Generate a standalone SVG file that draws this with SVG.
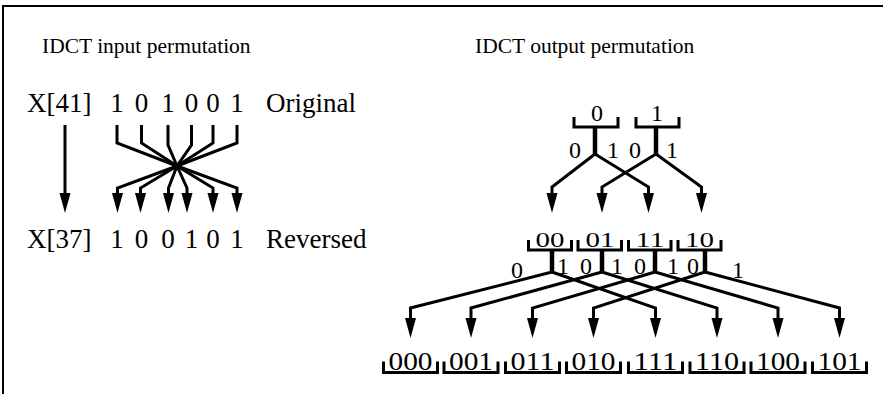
<svg xmlns="http://www.w3.org/2000/svg" width="885" height="394" viewBox="0 0 885 394">
<style>
text{font-family:"Liberation Serif","Times New Roman",serif;fill:#000}
.t{font-size:21.5px}
.b{font-size:27px}
.d{font-size:27px;text-anchor:middle}
.e{font-size:24px;text-anchor:middle}
.l1{font-size:22px;text-anchor:middle}
.l2{font-size:25px;text-anchor:middle}
.ln{fill:none;stroke:#000;stroke-width:3;stroke-linejoin:miter}
.st{fill:none;stroke:#000;stroke-width:4.5}
.br{fill:none;stroke:#000;stroke-width:3}
</style>
<defs>
<path id="ah" d="M-5.5,-20 L5.5,-20 L0,0 Z" fill="#000"/>
</defs>
<rect width="885" height="394" fill="#fff"/>
<path d="M3,394 V6 H883" fill="none" stroke="#000" stroke-width="2"/>

<g id="left-panel">
<text class="t" x="42" y="53">IDCT input permutation</text>
<g id="orig">
<text class="b" x="27" y="112">X[41]</text>
<text class="d" x="117" y="112">1</text><text class="d" x="141.5" y="112">0</text><text class="d" x="168" y="112">1</text><text class="d" x="191.5" y="112">0</text><text class="d" x="213" y="112">0</text><text class="d" x="237" y="112">1</text>
<text class="b" x="266" y="112">Original</text>
</g>
<g id="rev">
<text class="b" x="27" y="248">X[37]</text>
<text class="d" x="117" y="248">1</text><text class="d" x="141.5" y="248">0</text><text class="d" x="168" y="248">0</text><text class="d" x="191.5" y="248">1</text><text class="d" x="213" y="248">0</text><text class="d" x="237" y="248">1</text>
<text class="b" x="266" y="248">Reversed</text>
</g>
<g id="left-connectors">
<path class="ln" d="M65,125 V195"/><use href="#ah" x="65" y="213"/>
<path class="ln" d="M117,125 V143 L177,166 L237,188 V195"/><use href="#ah" x="237" y="213"/>
<path class="ln" d="M141.5,125 V143 L177,166 L213,188 V195"/><use href="#ah" x="213" y="213"/>
<path class="ln" d="M168,125 V145 L177,166 L187,188 V195"/><use href="#ah" x="187" y="213"/>
<path class="ln" d="M191.5,125 V145 L177,166 L168.5,188 V195"/><use href="#ah" x="168.5" y="213"/>
<path class="ln" d="M213,125 V143 L177,166 L140.5,188 V195"/><use href="#ah" x="140.5" y="213"/>
<path class="ln" d="M237,125 V143 L177,166 L117.5,188 V195"/><use href="#ah" x="117.5" y="213"/>
</g>
</g>

<text class="t" x="475" y="53">IDCT output permutation</text>

<g id="n-0"><path class="br" d="M574,117 V127 H618 V117"/><text class="e" x="597" y="121">0</text></g>
<g id="n-1"><path class="br" d="M636,117 V127 H679 V117"/><text class="e" x="657" y="121">1</text></g>

<g id="n-00"><path class="br" d="M528.5,240 V250 H571.5 V240"/><text class="l1" x="550" y="247" textLength="29" lengthAdjust="spacingAndGlyphs">00</text></g>
<g id="n-01"><path class="br" d="M578,240 V250 H621.5 V240"/><text class="l1" x="600" y="247" textLength="29" lengthAdjust="spacingAndGlyphs">01</text></g>
<g id="n-11"><path class="br" d="M628.5,240 V250 H671 V240"/><text class="l1" x="650" y="247" textLength="29" lengthAdjust="spacingAndGlyphs">11</text></g>
<g id="n-10"><path class="br" d="M678,240 V250 H721 V240"/><text class="l1" x="699.5" y="247" textLength="29" lengthAdjust="spacingAndGlyphs">10</text></g>

<g id="n-000"><path class="br" d="M383.5,361.5 V372.5 H437.5 V361.5"/><text class="l2" x="410.5" y="370" textLength="44" lengthAdjust="spacingAndGlyphs">000</text></g>
<g id="n-001"><path class="br" d="M444,361.5 V372.5 H498 V361.5"/><text class="l2" x="471" y="370" textLength="44" lengthAdjust="spacingAndGlyphs">001</text></g>
<g id="n-011"><path class="br" d="M505.5,361.5 V372.5 H559.5 V361.5"/><text class="l2" x="532.5" y="370" textLength="44" lengthAdjust="spacingAndGlyphs">011</text></g>
<g id="n-010"><path class="br" d="M566.5,361.5 V372.5 H620.5 V361.5"/><text class="l2" x="593.5" y="370" textLength="44" lengthAdjust="spacingAndGlyphs">010</text></g>
<g id="n-111"><path class="br" d="M628.5,361.5 V372.5 H682.5 V361.5"/><text class="l2" x="655.5" y="370" textLength="44" lengthAdjust="spacingAndGlyphs">111</text></g>
<g id="n-110"><path class="br" d="M690,361.5 V372.5 H744 V361.5"/><text class="l2" x="717" y="370" textLength="44" lengthAdjust="spacingAndGlyphs">110</text></g>
<g id="n-100"><path class="br" d="M751,361.5 V372.5 H805 V361.5"/><text class="l2" x="778" y="370" textLength="44" lengthAdjust="spacingAndGlyphs">100</text></g>
<g id="n-101"><path class="br" d="M812.5,361.5 V372.5 H866.5 V361.5"/><text class="l2" x="839.5" y="370" textLength="44" lengthAdjust="spacingAndGlyphs">101</text></g>

<g id="connectors">
<path class="st" d="M595,127 V154"/><path class="st" d="M656,127 V154"/>
<path class="ln" d="M595,154 L552,187 V195"/><use href="#ah" x="552" y="213"/>
<path class="ln" d="M595,154 L648.5,187 V195"/><use href="#ah" x="648.5" y="213"/>
<path class="ln" d="M656,154 L602,187 V195"/><use href="#ah" x="602" y="213"/>
<path class="ln" d="M656,154 L701.5,187 V195"/><use href="#ah" x="701.5" y="213"/>
<path class="st" d="M552,250 V272"/><path class="st" d="M602,250 V272"/><path class="st" d="M655,250 V272"/><path class="st" d="M705,250 V272"/>
<path class="ln" d="M552,272 L410.5,308 V320"/><use href="#ah" x="410.5" y="338"/>
<path class="ln" d="M602,272 L471,308 V320"/><use href="#ah" x="471" y="338"/>
<path class="ln" d="M655,272 L532.5,308 V320"/><use href="#ah" x="532.5" y="338"/>
<path class="ln" d="M705,272 L593.5,308 V320"/><use href="#ah" x="593.5" y="338"/>
<path class="ln" d="M552,272 L655.5,308 V320"/><use href="#ah" x="655.5" y="338"/>
<path class="ln" d="M602,272 L717,308 V320"/><use href="#ah" x="717" y="338"/>
<path class="ln" d="M655,272 L778,308 V320"/><use href="#ah" x="778" y="338"/>
<path class="ln" d="M705,272 L839.5,308 V320"/><use href="#ah" x="839.5" y="338"/>
<text class="e" x="575" y="158">0</text><text class="e" x="613" y="158">1</text>
<text class="e" x="635" y="158">0</text><text class="e" x="672" y="158">1</text>
<text class="e" x="517" y="278">0</text><text class="e" x="563" y="274">1</text>
<text class="e" x="586" y="274">0</text><text class="e" x="617" y="274">1</text>
<text class="e" x="640" y="274">0</text><text class="e" x="673" y="274">1</text>
<text class="e" x="693" y="274">0</text><text class="e" x="738" y="278">1</text>
</g>
</svg>
